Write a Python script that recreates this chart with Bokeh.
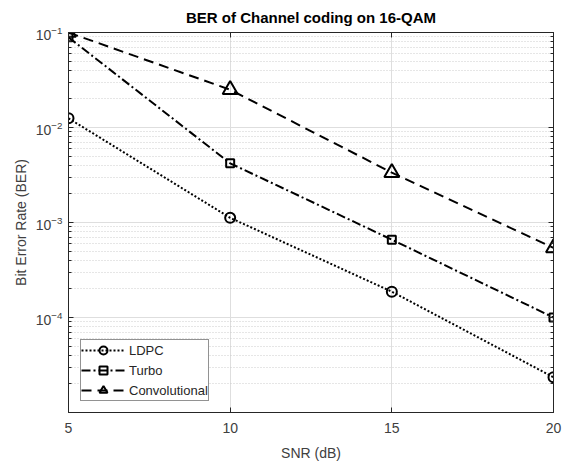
from bokeh.plotting import figure
from bokeh.models import (FixedTicker, LogAxis, LinearAxis, Legend, LegendItem,
                          CustomJSTickFormatter, Range1d)
from bokeh.embed import file_html
from bokeh.resources import INLINE

# ---- data ----
snr = [5, 10, 15, 20]
ber_ldpc = [1.25e-2, 1.12e-3, 1.87e-4, 2.35e-5]
ber_turbo = [8.9e-2, 4.2e-3, 6.6e-4, 1.0e-4]
ber_conv = [1.0e-1, 2.5e-2, 3.35e-3, 5.4e-4]
x_ticks = [5, 10, 15, 20]
y_ticks = [1e-4, 1e-3, 1e-2, 1e-1]
y_minor = [m * 10.0 ** e for e in range(-5, -1) for m in range(2, 10)]

FONT = "Liberation Sans"
AX = "#262626"
LBL = "#404040"

p = figure(width=562, height=463, y_axis_type="log",
           x_range=Range1d(5, 20), y_range=Range1d(1e-5, 1e-1),
           output_backend="svg", toolbar_location=None,
           min_border_left=68, min_border_right=9, min_border_top=32, min_border_bottom=50)

p.title.text = "BER of Channel coding on 16-QAM"
p.title.text_font = FONT
p.title.text_font_size = "15px"
p.title.text_font_style = "bold"
p.title.text_color = "black"
p.title.align = "center"
p.title.standoff = 13

def style(ax):
    ax.axis_line_color = AX
    ax.axis_line_width = 1
    ax.major_tick_line_color = AX
    ax.minor_tick_line_color = AX
    ax.major_tick_in = 5
    ax.major_tick_out = 0
    ax.minor_tick_in = 3
    ax.minor_tick_out = 0
    ax.major_label_text_font = FONT
    ax.major_label_text_font_size = "13px"
    ax.major_label_text_color = LBL
    ax.axis_label_text_font = FONT
    ax.axis_label_text_font_size = "14px"
    ax.axis_label_text_font_style = "normal"
    ax.axis_label_text_color = LBL

xa = p.xaxis[0]
style(xa)
xa.ticker = FixedTicker(ticks=x_ticks)
xa.axis_label = "SNR (dB)"
xa.major_label_text_font_size = "14px"
xa.major_label_standoff = 10
xa.axis_label_standoff = 9

ya = p.yaxis[0]
style(ya)
ya.ticker = FixedTicker(ticks=y_ticks, minor_ticks=y_minor)
ya.axis_label = "Bit Error Rate (BER)"
ya.major_label_text_font_size = "14px"
ya.major_label_standoff = 6
ya.axis_label_standoff = 4

top = LinearAxis(ticker=FixedTicker(ticks=x_ticks),
                 formatter=CustomJSTickFormatter(code="return ''"))
style(top)
top.major_label_standoff = 0
top.major_label_text_font_size = "0px"
p.add_layout(top, "above")

right = LogAxis(ticker=FixedTicker(ticks=y_ticks, minor_ticks=y_minor),
                formatter=CustomJSTickFormatter(code="return ''"))
style(right)
right.major_label_standoff = 0
right.major_label_text_font_size = "0px"
p.add_layout(right, "right")

p.xgrid.ticker = FixedTicker(ticks=x_ticks)
p.xgrid.grid_line_color = "#dedede"
p.ygrid.ticker = FixedTicker(ticks=y_ticks, minor_ticks=y_minor)
p.ygrid.grid_line_color = "#dedede"
p.ygrid.minor_grid_line_color = "#cccccc"
p.ygrid.minor_grid_line_dash = "1 2"
p.outline_line_color = AX

l1 = p.line(snr, ber_ldpc, line_color="black", line_width=2, line_dash="2 2")
m1 = p.scatter(snr, ber_ldpc, marker="circle", size=10, fill_color=None,
               line_color="black", line_width=2)
l2 = p.line(snr, ber_turbo, line_color="black", line_width=2, line_dash="9 3 2 3")
m2 = p.scatter(snr, ber_turbo, marker="square", size=8, fill_color=None,
               line_color="black", line_width=2)
l3 = p.line(snr, ber_conv, line_color="black", line_width=2, line_dash="10 6")
m3 = p.scatter(snr, ber_conv, marker="triangle", size=15, fill_color=None,
               line_color="black", line_width=2)

legend = Legend(items=[
    LegendItem(label="LDPC", renderers=[l1, m1]),
    LegendItem(label="Turbo", renderers=[l2, m2]),
    LegendItem(label="Convolutional", renderers=[l3, m3]),
], location=(12, 11))
legend.border_line_color = AX
legend.border_line_width = 1
legend.background_fill_color = "white"
legend.background_fill_alpha = 1
legend.label_text_font = FONT
legend.label_text_font_size = "13px"
legend.label_text_color = AX
legend.glyph_width = 44
legend.glyph_height = 20
legend.label_height = 20
legend.label_standoff = 4
legend.padding = 0
legend.spacing = 0
legend.margin = 0
p.add_layout(legend)

open("out.html", "w").write(file_html(p, INLINE))
